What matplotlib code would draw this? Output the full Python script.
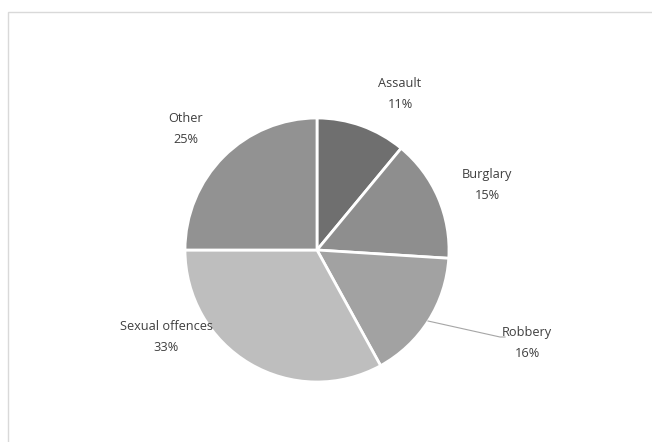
import matplotlib.pyplot as plt
from matplotlib.patches import Rectangle

categories = ['Assault', 'Burglary', 'Robbery', 'Sexual offences', 'Other']
shares = [11, 15, 16, 33, 25]
colors = ['#6f6f6f', '#8e8e8e', '#a2a2a2', '#bebebe', '#929292']

# label centres in pixels (x, y from top) of the reference
label_px = [(400, 94), (487, 185), (527, 343), (166, 337), (186, 129)]

W, H = 652, 442
cx, cy, r = 317, 250, 132

plt.rcParams['font.family'] = ['Open Sans', 'DejaVu Sans']

fig = plt.figure(figsize=(W / 100, H / 100), dpi=100)

# light frame of the chart area
fig.patches.append(Rectangle((8 / W, -0.1), 1.2, (H - 12) / H + 0.1,
                             transform=fig.transFigure, fill=False,
                             edgecolor='#d9d9d9', linewidth=1))

ax = fig.add_axes([(cx - r) / W, (H - cy - r) / H, 2 * r / W, 2 * r / H])
ax.pie(shares, colors=colors, startangle=90, counterclock=False, radius=1,
       wedgeprops=dict(edgecolor='white', linewidth=2))
ax.set_xlim(-1, 1)
ax.set_ylim(-1, 1)
ax.set_aspect('equal')
ax.axis('off')

for name, val, (px, py) in zip(categories, shares, label_px):
    x = (px - cx) / r
    y = (cy - py) / r
    ax.text(x, y, f'{name}\n{val}%', ha='center', va='center', fontsize=9.2,
            color='#3f3f3f', linespacing=1.75, clip_on=False)

# leader line for Robbery
ax.plot([(428 - cx) / r, (500 - cx) / r, (505 - cx) / r],
        [(cy - 321) / r, (cy - 337) / r, (cy - 337) / r],
        color='#a6a6a6', linewidth=0.8, clip_on=False)

fig.savefig('out.png', dpi=100, facecolor='white')
